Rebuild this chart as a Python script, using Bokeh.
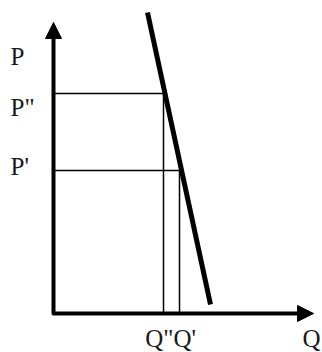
from bokeh.plotting import figure
from bokeh.models import Range1d, Arrow, NormalHead
from bokeh.core.properties import value
from bokeh.embed import file_html
from bokeh.resources import INLINE

# Conceptual values (origin at axes intersection)
p_levels = [220, 143]          # P'', P'
q_levels = [110, 126]          # Q'', Q'
demand_q = [94, 157]           # demand curve end points (quantity)
demand_p = [301, 9]            # demand curve end points (price)
axis_max_q = 260
axis_max_p = 291
p_labels = ['P', 'P"', "P'"]
p_label_y = [257, 206, 147]
q_labels = ['Q"', "Q'", 'Q']
q_label_x = [120, 120, 258]
q_label_y = -25

FONT = value("Liberation Serif")

p = figure(width=322, height=352, output_backend="svg", toolbar_location=None,
           x_range=Range1d(-53, 269), y_range=Range1d(-39, 313),
           min_border=0)
p.axis.visible = False
p.grid.visible = False
p.outline_line_color = None
p.background_fill_color = "white"
p.border_fill_color = "white"

# guide lines
for pl, ql in zip(p_levels, q_levels):
    p.line([0, ql], [pl, pl], line_color="black", line_width=1.5)
    p.line([ql, ql], [0, pl], line_color="black", line_width=1.5)

# demand
p.line(demand_q, demand_p, line_color="black", line_width=5)

# axes with arrows
p.add_layout(Arrow(x_start=0, y_start=-1, x_end=0, y_end=axis_max_p,
                   line_width=4, line_color="black",
                   end=NormalHead(size=16, fill_color="black", line_color="black")))
p.add_layout(Arrow(x_start=-1, y_start=0, x_end=axis_max_q, y_end=0,
                   line_width=4, line_color="black",
                   end=NormalHead(size=16, fill_color="black", line_color="black")))

# labels
common = dict(text_font=FONT, text_font_size="25px", text_baseline="middle",
              text_color="#1a1a1a")
p.text(x=[-43] * 3, y=p_label_y, text=p_labels, text_align="left", **common)
p.text(x=[q_label_x[0]], y=[q_label_y], text=[q_labels[0]], text_align="right", **common)
p.text(x=[q_label_x[1]], y=[q_label_y], text=[q_labels[1]], text_align="left", **common)
p.text(x=[q_label_x[2]], y=[q_label_y], text=[q_labels[2]], text_align="center", **common)

open("out.html", "w").write(file_html(p, INLINE))
